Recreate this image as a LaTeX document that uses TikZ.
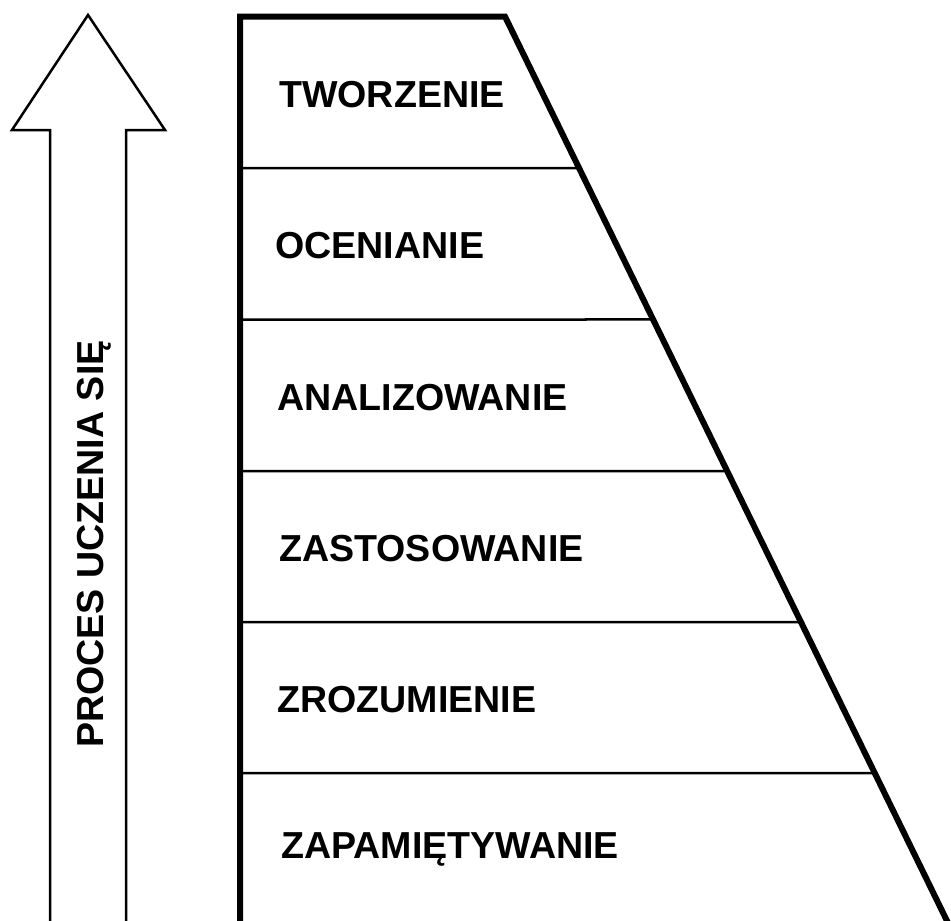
\documentclass[tikz,border=0pt]{standalone}
\usepackage{fontspec}
\setmainfont{Liberation Sans}
\usetikzlibrary{calc}
\begin{document}
\begin{tikzpicture}[x=1pt,y=-1pt,
  thickline/.style={line width=6pt,line join=miter},
  bandline/.style={line width=2.5pt},
  arrowline/.style={line width=2.5pt,line join=miter},
  lab/.style={inner sep=0pt,anchor=base west,font=\fontsize{37.6}{44}\selectfont\bfseries}]
\useasboundingbox[fill=white] (0,0) rectangle (951,921);
\clip (0,0) rectangle (951,921);
% arrow
\coordinate (sl) at (50,930);
\coordinate (sr) at (126,930);
\draw[arrowline] (sl) -- (50,130) -- (12,130) -- (88,15) -- (165,130) -- (126,130) -- (sr);
\node[lab,rotate=90] (proc) at (103,748) {PROCES UCZENIA SIĘ};
% trapezoid
\coordinate (bl) at (240,925);
\coordinate (tl) at (240,16.5);
\coordinate (tr) at (505,16.5);
\coordinate (br) at (949,925);
\foreach \y/\n in {168/a,319.5/b,471/c,622/d,773/e}{
  \coordinate (L\n) at (240,\y);
  \coordinate (R\n) at ($(tr)!{(\y-16.5)/(925-16.5)}!(br)$);
  \draw[bandline] (L\n) -- (R\n);
}
\draw[thickline] (bl) -- (tl) -- (tr) -- (br) -- cycle;
\node[lab] (t1) at (279,107) {TWORZENIE};
\node[lab] (t2) at (275,258) {OCENIANIE};
\node[lab] (t3) at (277,410) {ANALIZOWANIE};
\node[lab] (t4) at (279,561) {ZASTOSOWANIE};
\node[lab] (t5) at (277,712) {ZROZUMIENIE};
\node[lab] (t6) at (281,858) {ZAPAMIĘTYWANIE};
\end{tikzpicture}
\end{document}
